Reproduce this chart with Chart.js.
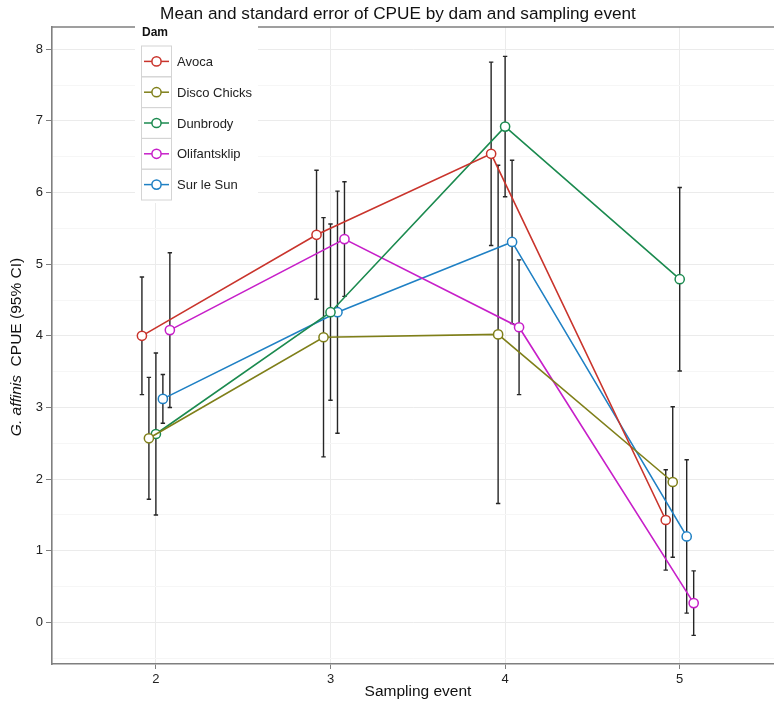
<!DOCTYPE html>
<html>
<head>
  <meta charset="UTF-8">
  <title>Mean and standard error of CPUE by dam and sampling event</title>
  <script src="https://cdn.jsdelivr.net/npm/chart.js"></script>
  <style>
    html, body {
      margin: 0;
      padding: 0;
      background: white;
    }
  </style>
</head>
<body>
  <canvas id="cpueChart" width="774" height="706"></canvas>

  <script>
    // sampling events (x) and y tick labels
    const events = [2, 3, 4, 5];
    const yTicks = [0, 1, 2, 3, 4, 5, 6, 7, 8];
    const dams = ['Avoca', 'Disco Chicks', 'Dunbrody', 'Olifantsklip', 'Sur le Sun'];

    // mean CPUE per event, and half width of the 95% CI
    const avocaMean = [4.00, 5.41, 6.54, 1.43];
    const avocaErr = [0.82, 0.90, 1.28, 0.70];
    const discoMean = [2.57, 3.98, 4.02, 1.96];
    const discoErr = [0.85, 1.67, 2.36, 1.05];
    const dunbrodyMean = [2.63, 4.33, 6.92, 4.79];
    const dunbrodyErr = [1.13, 1.23, 0.98, 1.28];
    const olifMean = [4.08, 5.35, 4.12, 0.27];
    const olifErr = [1.08, 0.80, 0.94, 0.45];
    const surMean = [3.12, 4.33, 5.31, 1.20];
    const surErr = [0.34, 1.69, 1.14, 1.07];

    const means = [avocaMean, discoMean, dunbrodyMean, olifMean, surMean];
    const errs = [avocaErr, discoErr, dunbrodyErr, olifErr, surErr];

    // style / layout
    const colors = ['#c9342c', '#7f7f19', '#1b8a4f', '#c71fc9', '#1f80c4'];
    const dodge = [-0.08, -0.04, 0, 0.08, 0.04];
    const FONT = '"Liberation Sans", Arial, sans-serif';

    const datasets = dams.map((name, k) => ({
      label: name,
      data: events.map((e, i) => ({ x: e + dodge[k], y: means[k][i] })),
      borderColor: colors[k],
      backgroundColor: '#ffffff',
      borderWidth: 1.6,
      tension: 0,
      pointRadius: 4.6,
      pointBorderWidth: 1.5,
      pointBackgroundColor: '#ffffff',
      pointBorderColor: colors[k]
    }));

    const errorBars = {
      id: 'errorBars',
      beforeDatasetsDraw(chart) {
        const ctx = chart.ctx, xs = chart.scales.x, ys = chart.scales.y;
        ctx.save();
        ctx.strokeStyle = '#262626';
        ctx.lineWidth = 1.4;
        dams.forEach((_, k) => {
          events.forEach((e, i) => {
            const px = xs.getPixelForValue(e + dodge[k]);
            const top = ys.getPixelForValue(means[k][i] + errs[k][i]);
            const bot = ys.getPixelForValue(means[k][i] - errs[k][i]);
            ctx.beginPath();
            ctx.moveTo(px, top); ctx.lineTo(px, bot);
            ctx.moveTo(px - 2.2, top); ctx.lineTo(px + 2.2, top);
            ctx.moveTo(px - 2.2, bot); ctx.lineTo(px + 2.2, bot);
            ctx.stroke();
          });
        });
        ctx.restore();
      }
    };

    const decorations = {
      id: 'decorations',
      afterDraw(chart) {
        const ctx = chart.ctx, area = chart.chartArea;
        ctx.save();

        // top border of the panel
        ctx.strokeStyle = '#7f7f7f';
        ctx.lineWidth = 1.6;
        ctx.beginPath();
        ctx.moveTo(area.left, area.top);
        ctx.lineTo(area.right, area.top);
        ctx.stroke();

        // title
        ctx.fillStyle = '#111';
        ctx.font = '17.2px ' + FONT;
        ctx.textAlign = 'center';
        ctx.textBaseline = 'middle';
        ctx.fillText('Mean and standard error of CPUE by dam and sampling event', 398, 14);

        // x title
        ctx.font = '15.5px ' + FONT;
        ctx.fillText('Sampling event', 418, 692);

        // y title, italic species name
        ctx.translate(17, 347);
        ctx.rotate(-Math.PI / 2);
        const part1 = 'G. affinis', part2 = '  CPUE (95% CI)';
        ctx.font = 'italic 15.5px ' + FONT;
        const w1 = ctx.measureText(part1).width;
        ctx.font = '15.5px ' + FONT;
        const w2 = ctx.measureText(part2).width;
        ctx.textAlign = 'left';
        ctx.font = 'italic 15.5px ' + FONT;
        ctx.fillText(part1, -(w1 + w2) / 2, 0);
        ctx.font = '15.5px ' + FONT;
        ctx.fillText(part2, -(w1 + w2) / 2 + w1, 0);
        ctx.setTransform(1, 0, 0, 1, 0, 0);

        // legend
        ctx.fillStyle = '#ffffff';
        ctx.fillRect(135, 19, 123, 184);
        ctx.fillStyle = '#111';
        ctx.font = 'bold 12px ' + FONT;
        ctx.textAlign = 'left';
        ctx.fillText('Dam', 142, 33);
        const rowH = 30.8;
        dams.forEach((name, k) => {
          const top = 46 + k * rowH, cy = top + rowH / 2;
          ctx.strokeStyle = '#d4d4d4';
          ctx.lineWidth = 1;
          ctx.strokeRect(141.5, top, 30, rowH);
          ctx.strokeStyle = colors[k];
          ctx.lineWidth = 1.5;
          ctx.beginPath();
          ctx.moveTo(144, cy); ctx.lineTo(169, cy);
          ctx.stroke();
          ctx.beginPath();
          ctx.arc(156.5, cy, 4.6, 0, Math.PI * 2);
          ctx.fillStyle = '#ffffff';
          ctx.fill();
          ctx.stroke();
          ctx.fillStyle = '#222';
          ctx.font = '13px ' + FONT;
          ctx.fillText(name, 177, cy + 1);
        });
        ctx.restore();
      }
    };

    const isMajor = v => Math.abs(v - Math.round(v)) < 1e-6;

    new Chart(document.getElementById('cpueChart').getContext('2d'), {
      type: 'line',
      data: { datasets: datasets },
      options: {
        responsive: false,
        animation: false,
        devicePixelRatio: 1,
        layout: { autoPadding: false, padding: { top: 27, left: 0, right: 0, bottom: 0 } },
        plugins: {
          legend: { display: false },
          title: { display: false },
          tooltip: { enabled: false }
        },
        scales: {
          x: {
            type: 'linear',
            min: 1.405,
            max: 5.54,
            afterBuildTicks: s => { s.ticks = events.map(v => ({ value: v })); },
            afterFit: s => { s.height = 42; s.paddingLeft = 0; s.paddingRight = 0; },
            ticks: {
              autoSkip: false,
              maxRotation: 0,
              padding: 3,
              color: '#222',
              font: { family: FONT, size: 13 },
              callback: v => String(v)
            },
            grid: { color: '#ebebeb', lineWidth: 1, tickLength: 5, tickColor: '#7f7f7f' },
            border: { color: '#7f7f7f', width: 1.6 }
          },
          y: {
            min: -0.58,
            max: 8.31,
            afterBuildTicks: s => {
              const t = [];
              yTicks.forEach(v => { t.push({ value: v - 0.5 }); t.push({ value: v }); });
              t.push({ value: yTicks[yTicks.length - 1] + 0.5 });
              s.ticks = t.filter(o => o.value >= s.min && o.value <= s.max);
            },
            afterFit: s => { s.width = 52; s.paddingTop = 0; s.paddingBottom = 0; },
            ticks: {
              autoSkip: false,
              padding: 3,
              color: '#222',
              font: { family: FONT, size: 13 },
              callback: v => isMajor(v) ? String(Math.round(v)) : ''
            },
            grid: {
              color: c => isMajor(c.tick.value) ? '#ebebeb' : '#f6f6f6',
              tickColor: c => isMajor(c.tick.value) ? '#7f7f7f' : 'rgba(0,0,0,0)',
              lineWidth: 1,
              tickLength: 6
            },
            border: { color: '#7f7f7f', width: 1.6 }
          }
        }
      },
      plugins: [errorBars, decorations]
    });
  </script>
</body>
</html>
